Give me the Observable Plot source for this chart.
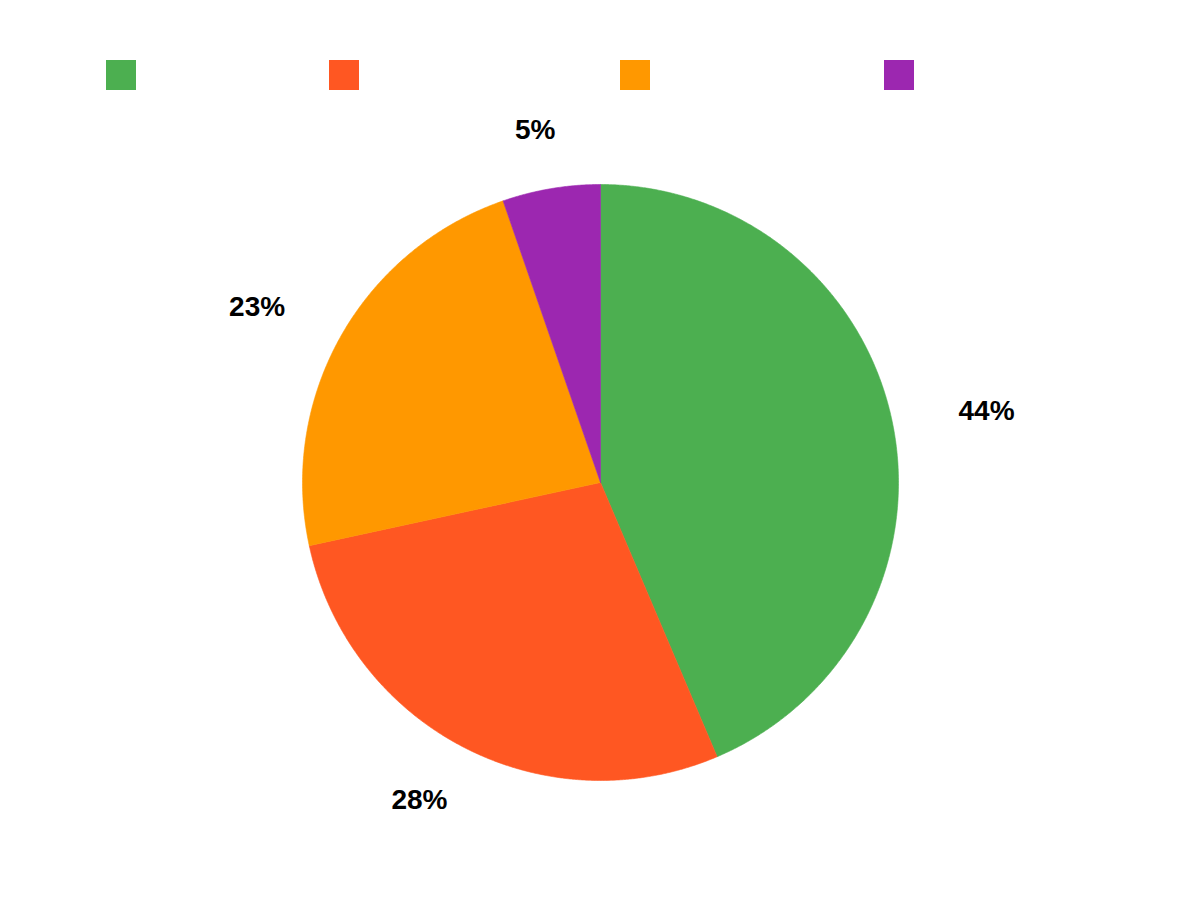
<!DOCTYPE html>
<html>
<head>
<meta charset="utf-8">
<script src="https://cdn.jsdelivr.net/npm/d3@7"></script>
<script src="https://cdn.jsdelivr.net/npm/@observablehq/plot@0.6"></script>
<style>
  html, body { margin: 0; padding: 0; background: #fff; }
  #wrap { position: relative; width: 1200px; height: 900px; }
  #legend { position: absolute; left: 0; top: 0; height: 110px; width: 1200px; z-index: 2; }
  #chart { position: absolute; left: 0; top: 0; }
  .sw { position: absolute; top: 60px; width: 30px; height: 30px; }
  .sw span { position: absolute; left: 40px; top: 4px; color: #fff; font: 16px "Liberation Sans", Arial, sans-serif; white-space: nowrap; }
</style>
</head>
<body>
<div id="wrap">
<div id="chart"></div>
<div id="legend"></div>
</div>
<script>
const categories = ["Category 1", "Category 2", "Category 3", "Category 4"];
const shares = [43.6, 28.0, 23.1, 5.3];
const labels = ["44%", "28%", "23%", "5%"];
const colors = ["#4caf50", "#ff5722", "#ff9800", "#9c27b0"];
const legendLeft = [106, 329, 620, 884];

// legend
const leg = document.getElementById("legend");
categories.forEach((c, i) => {
  const d = document.createElement("div");
  d.className = "sw";
  d.style.left = legendLeft[i] + "px";
  d.style.background = colors[i];
  const s = document.createElement("span");
  s.textContent = c;
  d.appendChild(s);
  leg.appendChild(d);
});

// pie geometry from values
const R = 298;
const total = d3.sum(shares);
let cum = 0;
const arcs = shares.map((v, i) => {
  const a0 = cum / total * 2 * Math.PI;
  cum += v;
  const a1 = cum / total * 2 * Math.PI;
  return {cat: categories[i], label: labels[i], a0, a1};
});
const pts = [];
for (const a of arcs) {
  pts.push({cat: a.cat, x: 0, y: 0});
  const n = Math.max(4, Math.ceil((a.a1 - a.a0) / 0.005));
  for (let k = 0; k <= n; k++) {
    const t = a.a0 + (a.a1 - a.a0) * k / n;
    pts.push({cat: a.cat, x: Math.sin(t), y: Math.cos(t)});
  }
  pts.push({cat: a.cat, x: 0, y: 0});
}
// labels placed on an ellipse outside the pie, at each slice's mid-angle
const labelRx = 1.322, labelRy = 1.20;
const lab = arcs.map(a => {
  const m = (a.a0 + a.a1) / 2;
  return {label: a.label, x: labelRx * Math.sin(m), y: labelRy * Math.cos(m)};
});

const chart = Plot.plot({
  width: 1200,
  height: 900,
  margin: 0,
  x: {domain: [-1, 1], range: [600 - R, 600 + R], axis: null},
  y: {domain: [-1, 1], range: [482 + R, 482 - R], axis: null},
  color: {domain: categories, range: colors},
  marks: [
    Plot.line(pts, {x: "x", y: "y", z: "cat", fill: "cat", stroke: "cat", strokeWidth: 0.6, curve: "linear"}),
    Plot.text(lab, {x: "x", y: "y", text: "label", fontSize: 28, fontWeight: "bold", fill: "#000", fontFamily: "Liberation Sans, Arial, sans-serif"})
  ]
});
document.getElementById("chart").appendChild(chart);
</script>
</body>
</html>
